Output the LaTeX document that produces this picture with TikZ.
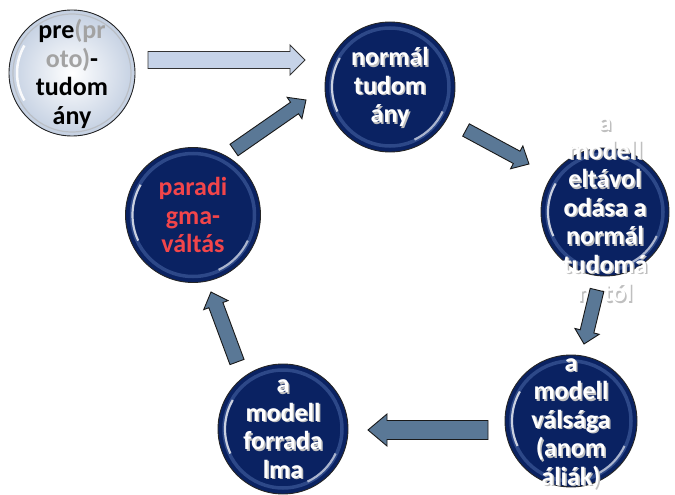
\documentclass[tikz,border=0pt]{standalone}
\usepackage{fontspec}
\setmainfont{Carlito}
\usetikzlibrary{calc}
\definecolor{navy}{HTML}{0A2262}
\definecolor{rimc}{HTML}{4A68A8}
\definecolor{arrowdark}{HTML}{5A7896}
\definecolor{arrowlight}{HTML}{C6D3E8}
\definecolor{protogray}{HTML}{A3A3A3}
\definecolor{redtxt}{HTML}{F2454A}
\definecolor{preouter}{HTML}{C4D0E2}
\tikzset{
  ball/.style={circle, minimum size=#1, inner sep=0pt, draw=black!85, line width=0.9pt, fill=navy,
    path picture={
      \draw[rimc, line width=3.5pt, opacity=0.55] (path picture bounding box.center) circle ({#1/2-6pt});
      \draw[white, line width=2.2pt, opacity=0.75] ($(path picture bounding box.center)+(150:{#1/2-7pt})$) arc[start angle=150, end angle=205, radius={#1/2-7pt}];
      \draw[white, line width=2.2pt, opacity=0.6] ($(path picture bounding box.center)+(-25:{#1/2-7pt})$) arc[start angle=-25, end angle=-65, radius={#1/2-7pt}];
    }},
  lightball/.style={ball=#1, inner color=white, outer color=preouter,
    path picture={
      \draw[black!30, line width=1.2pt, opacity=0.6] (path picture bounding box.center) circle ({#1/2-4pt});
      \draw[white, line width=2.5pt, opacity=0.9] ($(path picture bounding box.center)+(150:{#1/2-8pt})$) arc[start angle=150, end angle=210, radius={#1/2-8pt}];
    }},
  txt/.style={font=\bfseries\fontsize{26}{28.5}\selectfont, align=center, text=white, inner sep=0pt},
  shadowtxt/.style={txt, text=black!25},
  darkarrow/.style={fill=arrowdark, draw=black!90, line width=0.9pt, line join=miter},
  lightarrow/.style={fill=arrowlight, draw=black!80, line width=0.9pt, line join=miter},
}
% #1 start, #2 end, #3 shaft half width, #4 head half width, #5 head length, #6 style
\newcommand\blockarrow[6]{%
  \coordinate (ba-h) at ($(#2)!#5!(#1)$);
  \draw[#6] ($(#1)!#3!90:(#2)$) -- ($(ba-h)!#3!90:(#2)$) -- ($(ba-h)!#4!90:(#2)$) -- (#2)
    -- ($(ba-h)!#4!-90:(#2)$) -- ($(ba-h)!#3!-90:(#2)$) -- ($(#1)!#3!-90:(#2)$) -- cycle;}
\begin{document}
\begin{tikzpicture}[x=1pt, y=-1pt]
\useasboundingbox (0,0) rectangle (675,495);
% circles
\node[lightball=126pt] (pre) at (72,73) {};
\node[ball=130pt] (norm) at (390,87) {};
\node[ball=128pt] (elt) at (605,212) {};
\node[ball=132pt] (vals) at (571,421) {};
\node[ball=130pt] (forr) at (283,429) {};
\node[ball=135pt] (par) at (193,215) {};
% texts
\node[txt, text=black] (pret) at ($(pre)+(0,1)$) {pre\textcolor{protogray}{(pr}\\\textcolor{protogray}{oto)}-\\tudom\\ány};
\node[shadowtxt] (normts) at ($(norm)+(1.5,1.5)$) {normál\\tudom\\ány};
\node[txt] (normt) at (norm) {normál\\tudom\\ány};
\node[shadowtxt] (eltts) at ($(elt)+(1.5,1.5)$) {a\\modell\\eltávol\\odása a\\normál\\tudomá\\nytól};
\node[txt] (eltt) at (elt) {a\\modell\\eltávol\\odása a\\normál\\tudomá\\nytól};
\node[shadowtxt] (valsts) at ($(vals)+(1.5,4.5)$) {a\\modell\\válsága\\(anom\\áliák)};
\node[txt] (valst) at ($(vals)+(0,3)$) {a\\modell\\válsága\\(anom\\áliák)};
\node[shadowtxt] (forrts) at ($(forr)+(1.5,1.5)$) {a\\modell\\forrada\\lma};
\node[txt] (forrt) at (forr) {a\\modell\\forrada\\lma};
\node[txt, text=redtxt] (part) at (par) {paradi\\gma-\\váltás};
% arrow end points
\coordinate (a1s) at (148,60);  \coordinate (a1e) at (305,60);
\coordinate (a2s) at (466,130); \coordinate (a2e) at (529,164);
\coordinate (a3s) at (597,290); \coordinate (a3e) at (584,344);
\coordinate (a4s) at (488,430); \coordinate (a4e) at (368,430);
\coordinate (a5s) at (237,362); \coordinate (a5e) at (211,292);
\coordinate (a6s) at (234,150); \coordinate (a6e) at (306,100);
\blockarrow{a1s}{a1e}{8.5pt}{15pt}{15pt}{lightarrow}
\blockarrow{a2s}{a2e}{7pt}{13pt}{14pt}{darkarrow}
\blockarrow{a3s}{a3e}{7pt}{12.5pt}{13pt}{darkarrow}
\blockarrow{a4s}{a4e}{9.5pt}{16pt}{19pt}{darkarrow}
\blockarrow{a5s}{a5e}{7.5pt}{13pt}{14pt}{darkarrow}
\blockarrow{a6s}{a6e}{7pt}{13pt}{14pt}{darkarrow}
\end{tikzpicture}
\end{document}
